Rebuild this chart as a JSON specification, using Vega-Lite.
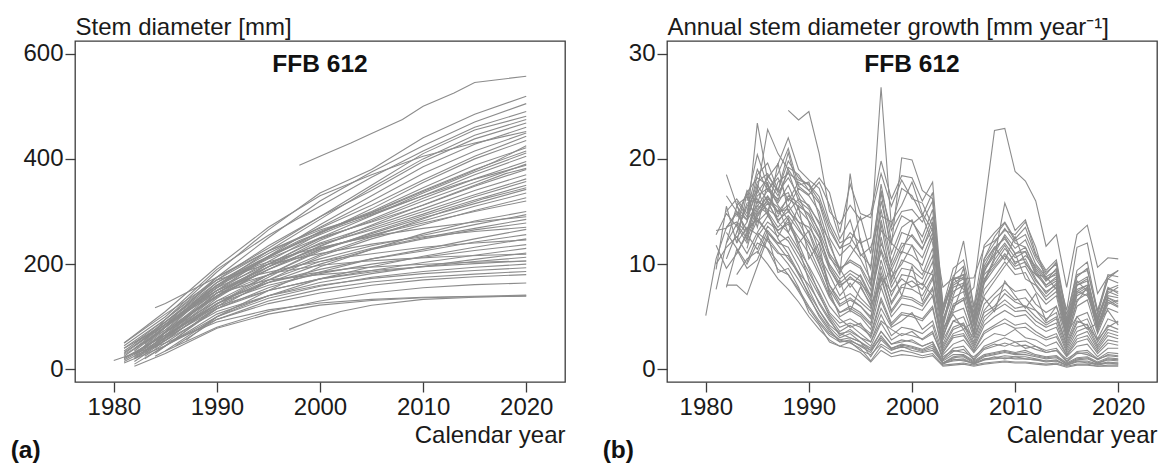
{
"$schema":"https://vega.github.io/schema/vega-lite/v6.json",
"padding":{"left":10,"top":14,"right":0,"bottom":0},
"background":"white",
"bounds":"flush",
"spacing":102,
"config":{"font":"Liberation Sans","view":{"stroke":"#3c3c3c","strokeWidth":1.3},
"axis":{"domain":false,"grid":false,"tickSize":10,"tickColor":"#3c3c3c","tickWidth":1.3,"labelFontSize":24,"labelColor":"#1a1a1a","titleFontSize":24,"titleFontWeight":"normal","titleColor":"#1a1a1a","labelFont":"Liberation Sans","titleFont":"Liberation Sans","labelFlush":false}},
"datasets":{
"L":[
{"t":1,"x":1983,"y":55},{"t":1,"x":1985,"y":95},{"t":1,"x":1990,"y":185},{"t":1,"x":1995,"y":265},{"t":1,"x":2000,"y":335},{"t":1,"x":2005,"y":380},{"t":1,"x":2010,"y":440},{"t":1,"x":2015,"y":485},{"t":1,"x":2020,"y":519},
{"t":2,"x":1982,"y":40},{"t":2,"x":1985,"y":85},{"t":2,"x":1990,"y":175},{"t":2,"x":1995,"y":250},{"t":2,"x":2000,"y":320},{"t":2,"x":2005,"y":375},{"t":2,"x":2010,"y":425},{"t":2,"x":2015,"y":470},{"t":2,"x":2020,"y":505},
{"t":3,"x":1981,"y":45},{"t":3,"x":1985,"y":100},{"t":3,"x":1990,"y":190},{"t":3,"x":1995,"y":255},{"t":3,"x":2000,"y":310},{"t":3,"x":2005,"y":365},{"t":3,"x":2010,"y":415},{"t":3,"x":2015,"y":460},{"t":3,"x":2020,"y":490},
{"t":4,"x":1984,"y":117},{"t":4,"x":1985,"y":125},{"t":4,"x":1990,"y":175},{"t":4,"x":1995,"y":230},{"t":4,"x":2000,"y":290},{"t":4,"x":2005,"y":350},{"t":4,"x":2010,"y":410},{"t":4,"x":2015,"y":455},{"t":4,"x":2020,"y":481},
{"t":5,"x":1982,"y":30},{"t":5,"x":1985,"y":75},{"t":5,"x":1990,"y":160},{"t":5,"x":1995,"y":225},{"t":5,"x":2000,"y":285},{"t":5,"x":2005,"y":345},{"t":5,"x":2010,"y":400},{"t":5,"x":2015,"y":445},{"t":5,"x":2020,"y":475},
{"t":6,"x":1981,"y":35},{"t":6,"x":1985,"y":90},{"t":6,"x":1990,"y":170},{"t":6,"x":1995,"y":235},{"t":6,"x":2000,"y":290},{"t":6,"x":2005,"y":340},{"t":6,"x":2010,"y":395},{"t":6,"x":2015,"y":438},{"t":6,"x":2020,"y":468},
{"t":7,"x":1983,"y":40},{"t":7,"x":1985,"y":70},{"t":7,"x":1990,"y":150},{"t":7,"x":1995,"y":215},{"t":7,"x":2000,"y":275},{"t":7,"x":2005,"y":330},{"t":7,"x":2010,"y":385},{"t":7,"x":2015,"y":428},{"t":7,"x":2020,"y":460},
{"t":8,"x":1981,"y":25},{"t":8,"x":1985,"y":80},{"t":8,"x":1990,"y":165},{"t":8,"x":1995,"y":220},{"t":8,"x":2000,"y":270},{"t":8,"x":2005,"y":320},{"t":8,"x":2010,"y":372},{"t":8,"x":2015,"y":415},{"t":8,"x":2020,"y":449},
{"t":9,"x":1982,"y":50},{"t":9,"x":1985,"y":95},{"t":9,"x":1990,"y":170},{"t":9,"x":1995,"y":225},{"t":9,"x":2000,"y":268},{"t":9,"x":2005,"y":312},{"t":9,"x":2010,"y":360},{"t":9,"x":2015,"y":405},{"t":9,"x":2020,"y":443},
{"t":10,"x":1984,"y":70},{"t":10,"x":1985,"y":85},{"t":10,"x":1990,"y":150},{"t":10,"x":1995,"y":205},{"t":10,"x":2000,"y":258},{"t":10,"x":2005,"y":305},{"t":10,"x":2010,"y":355},{"t":10,"x":2015,"y":400},{"t":10,"x":2020,"y":435},
{"t":11,"x":1981,"y":30},{"t":11,"x":1985,"y":85},{"t":11,"x":1990,"y":160},{"t":11,"x":1995,"y":212},{"t":11,"x":2000,"y":262},{"t":11,"x":2005,"y":300},{"t":11,"x":2010,"y":345},{"t":11,"x":2015,"y":388},{"t":11,"x":2020,"y":421},
{"t":12,"x":1983,"y":60},{"t":12,"x":1985,"y":90},{"t":12,"x":1990,"y":165},{"t":12,"x":1995,"y":215},{"t":12,"x":2000,"y":260},{"t":12,"x":2005,"y":298},{"t":12,"x":2010,"y":340},{"t":12,"x":2015,"y":380},{"t":12,"x":2020,"y":415},
{"t":13,"x":1982,"y":20},{"t":13,"x":1985,"y":60},{"t":13,"x":1990,"y":140},{"t":13,"x":1995,"y":200},{"t":13,"x":2000,"y":250},{"t":13,"x":2005,"y":292},{"t":13,"x":2010,"y":335},{"t":13,"x":2015,"y":375},{"t":13,"x":2020,"y":411},
{"t":14,"x":1981,"y":40},{"t":14,"x":1985,"y":95},{"t":14,"x":1990,"y":175},{"t":14,"x":1995,"y":225},{"t":14,"x":2000,"y":265},{"t":14,"x":2005,"y":295},{"t":14,"x":2010,"y":330},{"t":14,"x":2015,"y":370},{"t":14,"x":2020,"y":405},
{"t":15,"x":1985,"y":60},{"t":15,"x":1990,"y":135},{"t":15,"x":1995,"y":195},{"t":15,"x":2000,"y":245},{"t":15,"x":2005,"y":285},{"t":15,"x":2010,"y":325},{"t":15,"x":2015,"y":362},{"t":15,"x":2020,"y":395},
{"t":16,"x":1983,"y":35},{"t":16,"x":1985,"y":65},{"t":16,"x":1990,"y":145},{"t":16,"x":1995,"y":200},{"t":16,"x":2000,"y":248},{"t":16,"x":2005,"y":282},{"t":16,"x":2010,"y":320},{"t":16,"x":2015,"y":355},{"t":16,"x":2020,"y":390},
{"t":17,"x":1982,"y":45},{"t":17,"x":1985,"y":90},{"t":17,"x":1990,"y":160},{"t":17,"x":1995,"y":210},{"t":17,"x":2000,"y":250},{"t":17,"x":2005,"y":280},{"t":17,"x":2010,"y":312},{"t":17,"x":2015,"y":348},{"t":17,"x":2020,"y":380},
{"t":18,"x":1981,"y":20},{"t":18,"x":1985,"y":65},{"t":18,"x":1990,"y":145},{"t":18,"x":1995,"y":195},{"t":18,"x":2000,"y":240},{"t":18,"x":2005,"y":272},{"t":18,"x":2010,"y":305},{"t":18,"x":2015,"y":340},{"t":18,"x":2020,"y":370},
{"t":19,"x":1984,"y":50},{"t":19,"x":1985,"y":70},{"t":19,"x":1990,"y":140},{"t":19,"x":1995,"y":190},{"t":19,"x":2000,"y":235},{"t":19,"x":2005,"y":268},{"t":19,"x":2010,"y":300},{"t":19,"x":2015,"y":332},{"t":19,"x":2020,"y":362},
{"t":20,"x":1982,"y":35},{"t":20,"x":1985,"y":80},{"t":20,"x":1990,"y":155},{"t":20,"x":1995,"y":200},{"t":20,"x":2000,"y":238},{"t":20,"x":2005,"y":265},{"t":20,"x":2010,"y":295},{"t":20,"x":2015,"y":328},{"t":20,"x":2020,"y":357},
{"t":21,"x":1983,"y":30},{"t":21,"x":1985,"y":60},{"t":21,"x":1990,"y":130},{"t":21,"x":1995,"y":180},{"t":21,"x":2000,"y":225},{"t":21,"x":2005,"y":260},{"t":21,"x":2010,"y":292},{"t":21,"x":2015,"y":322},{"t":21,"x":2020,"y":350},
{"t":22,"x":1981,"y":15},{"t":22,"x":1985,"y":55},{"t":22,"x":1990,"y":125},{"t":22,"x":1995,"y":180},{"t":22,"x":2000,"y":228},{"t":22,"x":2005,"y":258},{"t":22,"x":2010,"y":288},{"t":22,"x":2015,"y":315},{"t":22,"x":2020,"y":342},
{"t":23,"x":1982,"y":25},{"t":23,"x":1985,"y":70},{"t":23,"x":1990,"y":145},{"t":23,"x":1995,"y":190},{"t":23,"x":2000,"y":228},{"t":23,"x":2005,"y":255},{"t":23,"x":2010,"y":282},{"t":23,"x":2015,"y":310},{"t":23,"x":2020,"y":335},
{"t":24,"x":1985,"y":45},{"t":24,"x":1990,"y":115},{"t":24,"x":1995,"y":170},{"t":24,"x":2000,"y":215},{"t":24,"x":2005,"y":248},{"t":24,"x":2010,"y":275},{"t":24,"x":2015,"y":302},{"t":24,"x":2020,"y":326},
{"t":25,"x":1983,"y":45},{"t":25,"x":1985,"y":80},{"t":25,"x":1990,"y":150},{"t":25,"x":1995,"y":195},{"t":25,"x":2000,"y":230},{"t":25,"x":2005,"y":255},{"t":25,"x":2010,"y":278},{"t":25,"x":2015,"y":300},{"t":25,"x":2020,"y":320},
{"t":26,"x":1981,"y":28},{"t":26,"x":1985,"y":75},{"t":26,"x":1990,"y":140},{"t":26,"x":1995,"y":180},{"t":26,"x":2000,"y":210},{"t":26,"x":2005,"y":235},{"t":26,"x":2010,"y":255},{"t":26,"x":2015,"y":275},{"t":26,"x":2020,"y":294},
{"t":27,"x":1982,"y":15},{"t":27,"x":1985,"y":55},{"t":27,"x":1990,"y":125},{"t":27,"x":1995,"y":170},{"t":27,"x":2000,"y":205},{"t":27,"x":2005,"y":230},{"t":27,"x":2010,"y":250},{"t":27,"x":2015,"y":268},{"t":27,"x":2020,"y":285},
{"t":28,"x":1984,"y":40},{"t":28,"x":1985,"y":58},{"t":28,"x":1990,"y":120},{"t":28,"x":1995,"y":165},{"t":28,"x":2000,"y":200},{"t":28,"x":2005,"y":228},{"t":28,"x":2010,"y":248},{"t":28,"x":2015,"y":265},{"t":28,"x":2020,"y":278},
{"t":29,"x":1981,"y":50},{"t":29,"x":1985,"y":105},{"t":29,"x":1990,"y":170},{"t":29,"x":1995,"y":200},{"t":29,"x":2000,"y":220},{"t":29,"x":2005,"y":238},{"t":29,"x":2010,"y":252},{"t":29,"x":2015,"y":262},{"t":29,"x":2020,"y":270},
{"t":30,"x":1983,"y":25},{"t":30,"x":1985,"y":50},{"t":30,"x":1990,"y":115},{"t":30,"x":1995,"y":155},{"t":30,"x":2000,"y":185},{"t":30,"x":2005,"y":210},{"t":30,"x":2010,"y":228},{"t":30,"x":2015,"y":248},{"t":30,"x":2020,"y":266},
{"t":31,"x":1982,"y":30},{"t":31,"x":1985,"y":70},{"t":31,"x":1990,"y":130},{"t":31,"x":1995,"y":165},{"t":31,"x":2000,"y":190},{"t":31,"x":2005,"y":210},{"t":31,"x":2010,"y":225},{"t":31,"x":2015,"y":242},{"t":31,"x":2020,"y":256},
{"t":32,"x":1985,"y":35},{"t":32,"x":1990,"y":100},{"t":32,"x":1995,"y":140},{"t":32,"x":2000,"y":172},{"t":32,"x":2005,"y":195},{"t":32,"x":2010,"y":215},{"t":32,"x":2015,"y":232},{"t":32,"x":2020,"y":248},
{"t":33,"x":1981,"y":22},{"t":33,"x":1985,"y":65},{"t":33,"x":1990,"y":125},{"t":33,"x":1995,"y":160},{"t":33,"x":2000,"y":182},{"t":33,"x":2005,"y":200},{"t":33,"x":2010,"y":213},{"t":33,"x":2015,"y":226},{"t":33,"x":2020,"y":237},
{"t":34,"x":1983,"y":35},{"t":34,"x":1985,"y":65},{"t":34,"x":1990,"y":120},{"t":34,"x":1995,"y":150},{"t":34,"x":2000,"y":172},{"t":34,"x":2005,"y":188},{"t":34,"x":2010,"y":203},{"t":34,"x":2015,"y":217},{"t":34,"x":2020,"y":230},
{"t":35,"x":1982,"y":10},{"t":35,"x":1985,"y":45},{"t":35,"x":1990,"y":105},{"t":35,"x":1995,"y":140},{"t":35,"x":2000,"y":165},{"t":35,"x":2005,"y":182},{"t":35,"x":2010,"y":196},{"t":35,"x":2015,"y":209},{"t":35,"x":2020,"y":221},
{"t":36,"x":1984,"y":45},{"t":36,"x":1985,"y":60},{"t":36,"x":1990,"y":115},{"t":36,"x":1995,"y":150},{"t":36,"x":2000,"y":172},{"t":36,"x":2005,"y":185},{"t":36,"x":2010,"y":195},{"t":36,"x":2015,"y":205},{"t":36,"x":2020,"y":213},
{"t":37,"x":1981,"y":40},{"t":37,"x":1985,"y":85},{"t":37,"x":1990,"y":145},{"t":37,"x":1995,"y":170},{"t":37,"x":2000,"y":180},{"t":37,"x":2005,"y":188},{"t":37,"x":2010,"y":195},{"t":37,"x":2015,"y":201},{"t":37,"x":2020,"y":206},
{"t":38,"x":1983,"y":20},{"t":38,"x":1985,"y":45},{"t":38,"x":1990,"y":100},{"t":38,"x":1995,"y":135},{"t":38,"x":2000,"y":158},{"t":38,"x":2005,"y":175},{"t":38,"x":2010,"y":186},{"t":38,"x":2015,"y":194},{"t":38,"x":2020,"y":200},
{"t":39,"x":1982,"y":20},{"t":39,"x":1985,"y":55},{"t":39,"x":1990,"y":110},{"t":39,"x":1995,"y":140},{"t":39,"x":2000,"y":160},{"t":39,"x":2005,"y":173},{"t":39,"x":2010,"y":182},{"t":39,"x":2015,"y":188},{"t":39,"x":2020,"y":193},
{"t":40,"x":1986,"y":45},{"t":40,"x":1990,"y":95},{"t":40,"x":1995,"y":130},{"t":40,"x":2000,"y":152},{"t":40,"x":2005,"y":166},{"t":40,"x":2010,"y":175},{"t":40,"x":2015,"y":181},{"t":40,"x":2020,"y":186},
{"t":41,"x":1981,"y":12},{"t":41,"x":1985,"y":45},{"t":41,"x":1990,"y":95},{"t":41,"x":1995,"y":125},{"t":41,"x":2000,"y":145},{"t":41,"x":2005,"y":160},{"t":41,"x":2010,"y":170},{"t":41,"x":2015,"y":176},{"t":41,"x":2020,"y":180},
{"t":42,"x":1984,"y":25},{"t":42,"x":1985,"y":35},{"t":42,"x":1990,"y":80},{"t":42,"x":1995,"y":110},{"t":42,"x":2000,"y":130},{"t":42,"x":2005,"y":145},{"t":42,"x":2010,"y":155},{"t":42,"x":2015,"y":161},{"t":42,"x":2020,"y":164},
{"t":43,"x":1980,"y":17},{"t":43,"x":1985,"y":50},{"t":43,"x":1990,"y":90},{"t":43,"x":1995,"y":113},{"t":43,"x":2000,"y":126},{"t":43,"x":2005,"y":133},{"t":43,"x":2010,"y":137},{"t":43,"x":2015,"y":139},{"t":43,"x":2020,"y":141},
{"t":44,"x":1982,"y":6},{"t":44,"x":1985,"y":30},{"t":44,"x":1990,"y":78},{"t":44,"x":1995,"y":105},{"t":44,"x":2000,"y":122},{"t":44,"x":2005,"y":131},{"t":44,"x":2010,"y":136},{"t":44,"x":2015,"y":138},{"t":44,"x":2020,"y":139},
{"t":45,"x":1997,"y":76},{"t":45,"x":2000,"y":98},{"t":45,"x":2002,"y":110},{"t":45,"x":2005,"y":122},{"t":45,"x":2010,"y":133},{"t":45,"x":2015,"y":137},{"t":45,"x":2020,"y":140},
{"t":46,"x":1998,"y":388},{"t":46,"x":2000,"y":405},{"t":46,"x":2003,"y":430},{"t":46,"x":2005,"y":448},{"t":46,"x":2008,"y":475},{"t":46,"x":2010,"y":500},{"t":46,"x":2013,"y":525},{"t":46,"x":2015,"y":545},{"t":46,"x":2017,"y":550},{"t":46,"x":2020,"y":557},
{"t":47,"x":1987,"y":55},{"t":47,"x":1990,"y":100},{"t":47,"x":1995,"y":150},{"t":47,"x":2000,"y":195},{"t":47,"x":2005,"y":228},{"t":47,"x":2010,"y":258},{"t":47,"x":2015,"y":282},{"t":47,"x":2020,"y":300},
{"t":48,"x":1981,"y":50},{"t":48,"x":1985,"y":110},{"t":48,"x":1990,"y":195},{"t":48,"x":1995,"y":270},{"t":48,"x":2000,"y":330},{"t":48,"x":2005,"y":370},{"t":48,"x":2010,"y":405},{"t":48,"x":2015,"y":430},{"t":48,"x":2020,"y":452},
{"t":49,"x":1982,"y":28},{"t":49,"x":1985,"y":70},{"t":49,"x":1988,"y":115},{"t":49,"x":1990,"y":140},{"t":49,"x":1993,"y":168},{"t":49,"x":1996,"y":185},{"t":49,"x":2000,"y":198},{"t":49,"x":2004,"y":205},{"t":49,"x":2008,"y":210},{"t":49,"x":2012,"y":214},{"t":49,"x":2016,"y":217},{"t":49,"x":2020,"y":219},
{"t":50,"x":1981,"y":18},{"t":50,"x":1985,"y":60},{"t":50,"x":1988,"y":100},{"t":50,"x":1991,"y":135},{"t":50,"x":1995,"y":165},{"t":50,"x":1999,"y":182},{"t":50,"x":2003,"y":192},{"t":50,"x":2008,"y":198},{"t":50,"x":2014,"y":203},{"t":50,"x":2020,"y":206},
{"t":51,"x":1983,"y":42},{"t":51,"x":1985,"y":72},{"t":51,"x":1988,"y":125},{"t":51,"x":1991,"y":170},{"t":51,"x":1995,"y":215},{"t":51,"x":1998,"y":245},{"t":51,"x":2002,"y":275},{"t":51,"x":2006,"y":305},{"t":51,"x":2010,"y":338},{"t":51,"x":2014,"y":370},{"t":51,"x":2017,"y":395},{"t":51,"x":2020,"y":425},
{"t":52,"x":1982,"y":38},{"t":52,"x":1985,"y":82},{"t":52,"x":1988,"y":130},{"t":52,"x":1991,"y":172},{"t":52,"x":1994,"y":205},{"t":52,"x":1998,"y":240},{"t":52,"x":2002,"y":272},{"t":52,"x":2006,"y":300},{"t":52,"x":2010,"y":330},{"t":52,"x":2014,"y":356},{"t":52,"x":2017,"y":372},{"t":52,"x":2020,"y":388},
{"t":53,"x":1984,"y":30},{"t":53,"x":1986,"y":58},{"t":53,"x":1989,"y":105},{"t":53,"x":1992,"y":145},{"t":53,"x":1996,"y":185},{"t":53,"x":2000,"y":218},{"t":53,"x":2004,"y":245},{"t":53,"x":2008,"y":272},{"t":53,"x":2012,"y":300},{"t":53,"x":2016,"y":325},{"t":53,"x":2020,"y":345},
{"t":54,"x":1981,"y":32},{"t":54,"x":1984,"y":72},{"t":54,"x":1987,"y":115},{"t":54,"x":1990,"y":150},{"t":54,"x":1994,"y":180},{"t":54,"x":1998,"y":198},{"t":54,"x":2002,"y":212},{"t":54,"x":2006,"y":222},{"t":54,"x":2010,"y":232},{"t":54,"x":2015,"y":240},{"t":54,"x":2020,"y":246},
{"t":55,"x":1982,"y":22},{"t":55,"x":1985,"y":62},{"t":55,"x":1988,"y":112},{"t":55,"x":1991,"y":150},{"t":55,"x":1995,"y":190},{"t":55,"x":1999,"y":225},{"t":55,"x":2003,"y":258},{"t":55,"x":2007,"y":290},{"t":55,"x":2011,"y":320},{"t":55,"x":2015,"y":350},{"t":55,"x":2018,"y":372},{"t":55,"x":2020,"y":382},
{"t":56,"x":1983,"y":48},{"t":56,"x":1985,"y":80},{"t":56,"x":1988,"y":128},{"t":56,"x":1991,"y":168},{"t":56,"x":1994,"y":198},{"t":56,"x":1998,"y":222},{"t":56,"x":2002,"y":240},{"t":56,"x":2006,"y":256},{"t":56,"x":2010,"y":268},{"t":56,"x":2015,"y":280},{"t":56,"x":2020,"y":290}
],
"G":[
{"t":1,"x":1980,"y":5.1},{"t":1,"x":1981,"y":10.5},{"t":1,"x":1982,"y":13.5},{"t":1,"x":1983,"y":14.8},{"t":1,"x":1984,"y":13.2},{"t":1,"x":1985,"y":16.5},{"t":1,"x":1986,"y":17.2},{"t":1,"x":1987,"y":15.8},{"t":1,"x":1988,"y":17.5},{"t":1,"x":1989,"y":15.2},{"t":1,"x":1990,"y":14.1},{"t":1,"x":1991,"y":12.5},{"t":1,"x":1992,"y":9.8},{"t":1,"x":1993,"y":8.2},{"t":1,"x":1994,"y":9.1},{"t":1,"x":1995,"y":8.4},{"t":1,"x":1996,"y":6.5},{"t":1,"x":1997,"y":13.8},{"t":1,"x":1998,"y":8.6},{"t":1,"x":1999,"y":11.2},{"t":1,"x":2000,"y":10.8},{"t":1,"x":2001,"y":9.9},{"t":1,"x":2002,"y":12.6},{"t":1,"x":2003,"y":3.4},{"t":1,"x":2004,"y":6.8},{"t":1,"x":2005,"y":7.4},{"t":1,"x":2006,"y":3.6},{"t":1,"x":2007,"y":8.2},{"t":1,"x":2008,"y":9.6},{"t":1,"x":2009,"y":10.8},{"t":1,"x":2010,"y":9.5},{"t":1,"x":2011,"y":9.8},{"t":1,"x":2012,"y":8.1},{"t":1,"x":2013,"y":6.9},{"t":1,"x":2014,"y":7.8},{"t":1,"x":2015,"y":3.1},{"t":1,"x":2016,"y":6.6},{"t":1,"x":2017,"y":7.2},{"t":1,"x":2018,"y":3.8},{"t":1,"x":2019,"y":6.4},{"t":1,"x":2020,"y":5.9},
{"t":2,"x":1982,"y":12.0},{"t":2,"x":1983,"y":15.5},{"t":2,"x":1984,"y":14.2},{"t":2,"x":1985,"y":18.5},{"t":2,"x":1986,"y":19.6},{"t":2,"x":1987,"y":17.0},{"t":2,"x":1988,"y":19.8},{"t":2,"x":1989,"y":18.2},{"t":2,"x":1990,"y":17.5},{"t":2,"x":1991,"y":16.0},{"t":2,"x":1992,"y":13.2},{"t":2,"x":1993,"y":11.5},{"t":2,"x":1994,"y":13.0},{"t":2,"x":1995,"y":12.0},{"t":2,"x":1996,"y":12.5},{"t":2,"x":1997,"y":26.8},{"t":2,"x":1998,"y":13.5},{"t":2,"x":1999,"y":17.2},{"t":2,"x":2000,"y":16.5},{"t":2,"x":2001,"y":14.6},{"t":2,"x":2002,"y":16.8},{"t":2,"x":2003,"y":5.2},{"t":2,"x":2004,"y":8.9},{"t":2,"x":2005,"y":9.8},{"t":2,"x":2006,"y":5.4},{"t":2,"x":2007,"y":10.5},{"t":2,"x":2008,"y":12.6},{"t":2,"x":2009,"y":13.9},{"t":2,"x":2010,"y":12.2},{"t":2,"x":2011,"y":12.8},{"t":2,"x":2012,"y":10.5},{"t":2,"x":2013,"y":9.0},{"t":2,"x":2014,"y":10.2},{"t":2,"x":2015,"y":4.6},{"t":2,"x":2016,"y":8.8},{"t":2,"x":2017,"y":9.6},{"t":2,"x":2018,"y":5.2},{"t":2,"x":2019,"y":8.6},{"t":2,"x":2020,"y":8.2},
{"t":3,"x":1988,"y":24.6},{"t":3,"x":1989,"y":23.7},{"t":3,"x":1990,"y":24.5},{"t":3,"x":1991,"y":20.5},{"t":3,"x":1992,"y":15.0},{"t":3,"x":1993,"y":13.8},{"t":3,"x":1994,"y":15.6},{"t":3,"x":1995,"y":14.2},{"t":3,"x":1996,"y":14.8},{"t":3,"x":1997,"y":19.8},{"t":3,"x":1998,"y":16.2},{"t":3,"x":1999,"y":18.4},{"t":3,"x":2000,"y":18.2},{"t":3,"x":2001,"y":16.0},{"t":3,"x":2002,"y":17.8},{"t":3,"x":2003,"y":6.0},{"t":3,"x":2004,"y":8.5},{"t":3,"x":2005,"y":9.0},{"t":3,"x":2006,"y":4.8},{"t":3,"x":2007,"y":9.6},{"t":3,"x":2008,"y":11.0},{"t":3,"x":2009,"y":12.8},{"t":3,"x":2010,"y":11.5},{"t":3,"x":2011,"y":12.3},{"t":3,"x":2012,"y":10.0},{"t":3,"x":2013,"y":8.8},{"t":3,"x":2014,"y":9.4},{"t":3,"x":2015,"y":4.2},{"t":3,"x":2016,"y":8.0},{"t":3,"x":2017,"y":8.4},{"t":3,"x":2018,"y":4.6},{"t":3,"x":2019,"y":7.6},{"t":3,"x":2020,"y":7.4},
{"t":4,"x":1983,"y":13.0},{"t":4,"x":1984,"y":15.8},{"t":4,"x":1985,"y":16.2},{"t":4,"x":1986,"y":15.0},{"t":4,"x":1987,"y":13.5},{"t":4,"x":1988,"y":14.6},{"t":4,"x":1989,"y":13.2},{"t":4,"x":1990,"y":12.0},{"t":4,"x":1991,"y":10.6},{"t":4,"x":1992,"y":8.0},{"t":4,"x":1993,"y":6.6},{"t":4,"x":1994,"y":7.2},{"t":4,"x":1995,"y":6.4},{"t":4,"x":1996,"y":5.5},{"t":4,"x":1997,"y":10.4},{"t":4,"x":1998,"y":7.0},{"t":4,"x":1999,"y":9.0},{"t":4,"x":2000,"y":8.8},{"t":4,"x":2001,"y":8.0},{"t":4,"x":2002,"y":10.2},{"t":4,"x":2003,"y":3.6},{"t":4,"x":2004,"y":6.0},{"t":4,"x":2005,"y":6.6},{"t":4,"x":2006,"y":7.8},{"t":4,"x":2007,"y":15.2},{"t":4,"x":2008,"y":22.7},{"t":4,"x":2009,"y":22.9},{"t":4,"x":2010,"y":18.8},{"t":4,"x":2011,"y":17.9},{"t":4,"x":2012,"y":16.0},{"t":4,"x":2013,"y":11.7},{"t":4,"x":2014,"y":12.8},{"t":4,"x":2015,"y":7.8},{"t":4,"x":2016,"y":12.8},{"t":4,"x":2017,"y":13.7},{"t":4,"x":2018,"y":9.7},{"t":4,"x":2019,"y":10.6},{"t":4,"x":2020,"y":10.5},
{"t":5,"x":1983,"y":12.5},{"t":5,"x":1984,"y":14.0},{"t":5,"x":1985,"y":23.4},{"t":5,"x":1986,"y":18.0},{"t":5,"x":1987,"y":16.5},{"t":5,"x":1988,"y":18.8},{"t":5,"x":1989,"y":16.0},{"t":5,"x":1990,"y":15.2},{"t":5,"x":1991,"y":13.0},{"t":5,"x":1992,"y":9.5},{"t":5,"x":1993,"y":7.8},{"t":5,"x":1994,"y":8.8},{"t":5,"x":1995,"y":8.0},{"t":5,"x":1996,"y":6.0},{"t":5,"x":1997,"y":12.6},{"t":5,"x":1998,"y":8.2},{"t":5,"x":1999,"y":10.4},{"t":5,"x":2000,"y":10.0},{"t":5,"x":2001,"y":9.0},{"t":5,"x":2002,"y":11.5},{"t":5,"x":2003,"y":3.0},{"t":5,"x":2004,"y":6.2},{"t":5,"x":2005,"y":6.8},{"t":5,"x":2006,"y":3.2},{"t":5,"x":2007,"y":7.6},{"t":5,"x":2008,"y":8.8},{"t":5,"x":2009,"y":10.2},{"t":5,"x":2010,"y":9.0},{"t":5,"x":2011,"y":9.2},{"t":5,"x":2012,"y":7.4},{"t":5,"x":2013,"y":6.2},{"t":5,"x":2014,"y":7.0},{"t":5,"x":2015,"y":2.8},{"t":5,"x":2016,"y":6.0},{"t":5,"x":2017,"y":6.6},{"t":5,"x":2018,"y":3.4},{"t":5,"x":2019,"y":5.8},{"t":5,"x":2020,"y":5.4},
{"t":6,"x":1982,"y":10.5},{"t":6,"x":1983,"y":13.0},{"t":6,"x":1984,"y":15.5},{"t":6,"x":1985,"y":17.0},{"t":6,"x":1986,"y":22.8},{"t":6,"x":1987,"y":20.5},{"t":6,"x":1988,"y":19.0},{"t":6,"x":1989,"y":17.5},{"t":6,"x":1990,"y":17.8},{"t":6,"x":1991,"y":14.5},{"t":6,"x":1992,"y":10.8},{"t":6,"x":1993,"y":9.0},{"t":6,"x":1994,"y":18.6},{"t":6,"x":1995,"y":12.0},{"t":6,"x":1996,"y":9.5},{"t":6,"x":1997,"y":16.8},{"t":6,"x":1998,"y":11.0},{"t":6,"x":1999,"y":13.5},{"t":6,"x":2000,"y":14.2},{"t":6,"x":2001,"y":12.0},{"t":6,"x":2002,"y":14.5},{"t":6,"x":2003,"y":4.4},{"t":6,"x":2004,"y":8.0},{"t":6,"x":2005,"y":8.6},{"t":6,"x":2006,"y":4.5},{"t":6,"x":2007,"y":9.4},{"t":6,"x":2008,"y":10.8},{"t":6,"x":2009,"y":12.0},{"t":6,"x":2010,"y":10.6},{"t":6,"x":2011,"y":11.2},{"t":6,"x":2012,"y":9.0},{"t":6,"x":2013,"y":8.0},{"t":6,"x":2014,"y":8.6},{"t":6,"x":2015,"y":3.8},{"t":6,"x":2016,"y":7.6},{"t":6,"x":2017,"y":8.0},{"t":6,"x":2018,"y":4.2},{"t":6,"x":2019,"y":7.0},{"t":6,"x":2020,"y":6.8},
{"t":7,"x":1984,"y":11.5},{"t":7,"x":1985,"y":15.0},{"t":7,"x":1986,"y":16.5},{"t":7,"x":1987,"y":15.0},{"t":7,"x":1988,"y":16.2},{"t":7,"x":1989,"y":15.5},{"t":7,"x":1990,"y":14.8},{"t":7,"x":1991,"y":13.2},{"t":7,"x":1992,"y":10.6},{"t":7,"x":1993,"y":9.5},{"t":7,"x":1994,"y":10.4},{"t":7,"x":1995,"y":9.8},{"t":7,"x":1996,"y":8.0},{"t":7,"x":1997,"y":16.0},{"t":7,"x":1998,"y":11.8},{"t":7,"x":1999,"y":20.1},{"t":7,"x":2000,"y":19.9},{"t":7,"x":2001,"y":17.0},{"t":7,"x":2002,"y":16.2},{"t":7,"x":2003,"y":5.6},{"t":7,"x":2004,"y":8.2},{"t":7,"x":2005,"y":8.8},{"t":7,"x":2006,"y":5.0},{"t":7,"x":2007,"y":9.0},{"t":7,"x":2008,"y":10.0},{"t":7,"x":2009,"y":11.5},{"t":7,"x":2010,"y":10.2},{"t":7,"x":2011,"y":10.5},{"t":7,"x":2012,"y":8.6},{"t":7,"x":2013,"y":7.2},{"t":7,"x":2014,"y":8.2},{"t":7,"x":2015,"y":3.5},{"t":7,"x":2016,"y":7.2},{"t":7,"x":2017,"y":7.8},{"t":7,"x":2018,"y":4.0},{"t":7,"x":2019,"y":6.8},{"t":7,"x":2020,"y":6.2},
{"t":8,"x":1981,"y":13.2},{"t":8,"x":1982,"y":13.4},{"t":8,"x":1983,"y":15.0},{"t":8,"x":1984,"y":14.2},{"t":8,"x":1985,"y":15.6},{"t":8,"x":1986,"y":14.8},{"t":8,"x":1987,"y":13.0},{"t":8,"x":1988,"y":12.2},{"t":8,"x":1989,"y":10.5},{"t":8,"x":1990,"y":8.8},{"t":8,"x":1991,"y":7.0},{"t":8,"x":1992,"y":5.2},{"t":8,"x":1993,"y":4.0},{"t":8,"x":1994,"y":4.4},{"t":8,"x":1995,"y":4.0},{"t":8,"x":1996,"y":3.2},{"t":8,"x":1997,"y":6.5},{"t":8,"x":1998,"y":4.2},{"t":8,"x":1999,"y":5.2},{"t":8,"x":2000,"y":5.0},{"t":8,"x":2001,"y":4.6},{"t":8,"x":2002,"y":5.8},{"t":8,"x":2003,"y":1.6},{"t":8,"x":2004,"y":3.2},{"t":8,"x":2005,"y":3.4},{"t":8,"x":2006,"y":1.8},{"t":8,"x":2007,"y":3.6},{"t":8,"x":2008,"y":4.2},{"t":8,"x":2009,"y":4.8},{"t":8,"x":2010,"y":4.2},{"t":8,"x":2011,"y":4.4},{"t":8,"x":2012,"y":3.6},{"t":8,"x":2013,"y":3.0},{"t":8,"x":2014,"y":3.4},{"t":8,"x":2015,"y":1.4},{"t":8,"x":2016,"y":2.9},{"t":8,"x":2017,"y":3.2},{"t":8,"x":2018,"y":1.7},{"t":8,"x":2019,"y":2.8},{"t":8,"x":2020,"y":2.6},
{"t":9,"x":1982,"y":8.0},{"t":9,"x":1983,"y":8.0},{"t":9,"x":1984,"y":7.1},{"t":9,"x":1985,"y":9.8},{"t":9,"x":1986,"y":12.5},{"t":9,"x":1987,"y":11.2},{"t":9,"x":1988,"y":10.0},{"t":9,"x":1989,"y":8.5},{"t":9,"x":1990,"y":6.8},{"t":9,"x":1991,"y":5.2},{"t":9,"x":1992,"y":3.8},{"t":9,"x":1993,"y":2.6},{"t":9,"x":1994,"y":2.8},{"t":9,"x":1995,"y":2.2},{"t":9,"x":1996,"y":1.6},{"t":9,"x":1997,"y":3.2},{"t":9,"x":1998,"y":2.0},{"t":9,"x":1999,"y":2.4},{"t":9,"x":2000,"y":2.2},{"t":9,"x":2001,"y":1.9},{"t":9,"x":2002,"y":2.4},{"t":9,"x":2003,"y":0.6},{"t":9,"x":2004,"y":1.1},{"t":9,"x":2005,"y":1.2},{"t":9,"x":2006,"y":0.6},{"t":9,"x":2007,"y":1.2},{"t":9,"x":2008,"y":1.4},{"t":9,"x":2009,"y":1.6},{"t":9,"x":2010,"y":1.4},{"t":9,"x":2011,"y":1.4},{"t":9,"x":2012,"y":1.2},{"t":9,"x":2013,"y":1.0},{"t":9,"x":2014,"y":1.1},{"t":9,"x":2015,"y":0.5},{"t":9,"x":2016,"y":0.9},{"t":9,"x":2017,"y":1.0},{"t":9,"x":2018,"y":0.6},{"t":9,"x":2019,"y":0.9},{"t":9,"x":2020,"y":0.8},
{"t":10,"x":1981,"y":12.8},{"t":10,"x":1982,"y":14.8},{"t":10,"x":1983,"y":13.6},{"t":10,"x":1984,"y":12.0},{"t":10,"x":1985,"y":14.2},{"t":10,"x":1986,"y":13.0},{"t":10,"x":1987,"y":11.8},{"t":10,"x":1988,"y":10.5},{"t":10,"x":1989,"y":9.2},{"t":10,"x":1990,"y":7.0},{"t":10,"x":1991,"y":5.0},{"t":10,"x":1992,"y":3.6},{"t":10,"x":1993,"y":2.8},{"t":10,"x":1994,"y":2.5},{"t":10,"x":1995,"y":2.0},{"t":10,"x":1996,"y":0.8},{"t":10,"x":1997,"y":2.2},{"t":10,"x":1998,"y":1.5},{"t":10,"x":1999,"y":1.8},{"t":10,"x":2000,"y":1.6},{"t":10,"x":2001,"y":1.3},{"t":10,"x":2002,"y":1.5},{"t":10,"x":2003,"y":0.4},{"t":10,"x":2004,"y":0.5},{"t":10,"x":2005,"y":0.6},{"t":10,"x":2006,"y":0.4},{"t":10,"x":2007,"y":0.6},{"t":10,"x":2008,"y":0.7},{"t":10,"x":2009,"y":0.8},{"t":10,"x":2010,"y":0.7},{"t":10,"x":2011,"y":0.7},{"t":10,"x":2012,"y":0.6},{"t":10,"x":2013,"y":0.5},{"t":10,"x":2014,"y":0.6},{"t":10,"x":2015,"y":0.3},{"t":10,"x":2016,"y":0.5},{"t":10,"x":2017,"y":0.5},{"t":10,"x":2018,"y":0.3},{"t":10,"x":2019,"y":0.4},{"t":10,"x":2020,"y":0.4},
{"t":11,"x":1982,"y":15.0},{"t":11,"x":1983,"y":16.2},{"t":11,"x":1984,"y":14.8},{"t":11,"x":1985,"y":17.8},{"t":11,"x":1986,"y":18.6},{"t":11,"x":1987,"y":16.8},{"t":11,"x":1988,"y":18.2},{"t":11,"x":1989,"y":16.5},{"t":11,"x":1990,"y":14.0},{"t":11,"x":1991,"y":11.2},{"t":11,"x":1992,"y":8.0},{"t":11,"x":1993,"y":6.2},{"t":11,"x":1994,"y":6.8},{"t":11,"x":1995,"y":6.0},{"t":11,"x":1996,"y":4.8},{"t":11,"x":1997,"y":9.8},{"t":11,"x":1998,"y":6.2},{"t":11,"x":1999,"y":7.8},{"t":11,"x":2000,"y":7.6},{"t":11,"x":2001,"y":7.0},{"t":11,"x":2002,"y":8.8},{"t":11,"x":2003,"y":2.4},{"t":11,"x":2004,"y":4.6},{"t":11,"x":2005,"y":5.0},{"t":11,"x":2006,"y":2.6},{"t":11,"x":2007,"y":5.6},{"t":11,"x":2008,"y":6.8},{"t":11,"x":2009,"y":7.6},{"t":11,"x":2010,"y":6.6},{"t":11,"x":2011,"y":6.8},{"t":11,"x":2012,"y":5.6},{"t":11,"x":2013,"y":4.8},{"t":11,"x":2014,"y":5.4},{"t":11,"x":2015,"y":2.2},{"t":11,"x":2016,"y":4.4},{"t":11,"x":2017,"y":4.8},{"t":11,"x":2018,"y":2.6},{"t":11,"x":2019,"y":4.2},{"t":11,"x":2020,"y":3.8},
{"t":12,"x":1983,"y":14.5},{"t":12,"x":1984,"y":16.8},{"t":12,"x":1985,"y":18.2},{"t":12,"x":1986,"y":17.5},{"t":12,"x":1987,"y":16.0},{"t":12,"x":1988,"y":19.2},{"t":12,"x":1989,"y":18.5},{"t":12,"x":1990,"y":17.0},{"t":12,"x":1991,"y":15.8},{"t":12,"x":1992,"y":12.5},{"t":12,"x":1993,"y":10.8},{"t":12,"x":1994,"y":11.8},{"t":12,"x":1995,"y":10.5},{"t":12,"x":1996,"y":8.5},{"t":12,"x":1997,"y":15.2},{"t":12,"x":1998,"y":10.2},{"t":12,"x":1999,"y":13.0},{"t":12,"x":2000,"y":12.6},{"t":12,"x":2001,"y":11.4},{"t":12,"x":2002,"y":14.0},{"t":12,"x":2003,"y":4.8},{"t":12,"x":2004,"y":7.4},{"t":12,"x":2005,"y":8.0},{"t":12,"x":2006,"y":4.2},{"t":12,"x":2007,"y":8.6},{"t":12,"x":2008,"y":9.8},{"t":12,"x":2009,"y":11.0},{"t":12,"x":2010,"y":9.8},{"t":12,"x":2011,"y":10.2},{"t":12,"x":2012,"y":8.4},{"t":12,"x":2013,"y":7.4},{"t":12,"x":2014,"y":8.0},{"t":12,"x":2015,"y":3.4},{"t":12,"x":2016,"y":7.0},{"t":12,"x":2017,"y":7.6},{"t":12,"x":2018,"y":3.9},{"t":12,"x":2019,"y":6.6},{"t":12,"x":2020,"y":6.0},
{"t":13,"x":1984,"y":10.2},{"t":13,"x":1985,"y":12.6},{"t":13,"x":1986,"y":14.0},{"t":13,"x":1987,"y":13.2},{"t":13,"x":1988,"y":13.8},{"t":13,"x":1989,"y":12.0},{"t":13,"x":1990,"y":9.6},{"t":13,"x":1991,"y":7.2},{"t":13,"x":1992,"y":5.0},{"t":13,"x":1993,"y":3.6},{"t":13,"x":1994,"y":4.2},{"t":13,"x":1995,"y":3.4},{"t":13,"x":1996,"y":2.6},{"t":13,"x":1997,"y":5.2},{"t":13,"x":1998,"y":3.2},{"t":13,"x":1999,"y":4.0},{"t":13,"x":2000,"y":3.8},{"t":13,"x":2001,"y":3.4},{"t":13,"x":2002,"y":4.2},{"t":13,"x":2003,"y":1.0},{"t":13,"x":2004,"y":2.0},{"t":13,"x":2005,"y":2.2},{"t":13,"x":2006,"y":1.0},{"t":13,"x":2007,"y":2.2},{"t":13,"x":2008,"y":2.6},{"t":13,"x":2009,"y":3.0},{"t":13,"x":2010,"y":2.6},{"t":13,"x":2011,"y":2.7},{"t":13,"x":2012,"y":2.2},{"t":13,"x":2013,"y":1.8},{"t":13,"x":2014,"y":2.0},{"t":13,"x":2015,"y":0.8},{"t":13,"x":2016,"y":1.7},{"t":13,"x":2017,"y":1.8},{"t":13,"x":2018,"y":1.0},{"t":13,"x":2019,"y":1.6},{"t":13,"x":2020,"y":1.5},
{"t":14,"x":1981,"y":7.6},{"t":14,"x":1982,"y":12.0},{"t":14,"x":1983,"y":13.8},{"t":14,"x":1984,"y":12.4},{"t":14,"x":1985,"y":14.8},{"t":14,"x":1986,"y":16.0},{"t":14,"x":1987,"y":15.0},{"t":14,"x":1988,"y":15.2},{"t":14,"x":1989,"y":13.5},{"t":14,"x":1990,"y":11.6},{"t":14,"x":1991,"y":9.4},{"t":14,"x":1992,"y":7.0},{"t":14,"x":1993,"y":5.4},{"t":14,"x":1994,"y":5.8},{"t":14,"x":1995,"y":5.2},{"t":14,"x":1996,"y":4.2},{"t":14,"x":1997,"y":8.6},{"t":14,"x":1998,"y":5.4},{"t":14,"x":1999,"y":6.8},{"t":14,"x":2000,"y":6.6},{"t":14,"x":2001,"y":6.0},{"t":14,"x":2002,"y":7.6},{"t":14,"x":2003,"y":2.0},{"t":14,"x":2004,"y":3.8},{"t":14,"x":2005,"y":4.2},{"t":14,"x":2006,"y":2.2},{"t":14,"x":2007,"y":4.6},{"t":14,"x":2008,"y":5.6},{"t":14,"x":2009,"y":6.2},{"t":14,"x":2010,"y":5.5},{"t":14,"x":2011,"y":5.6},{"t":14,"x":2012,"y":4.6},{"t":14,"x":2013,"y":4.0},{"t":14,"x":2014,"y":4.4},{"t":14,"x":2015,"y":1.8},{"t":14,"x":2016,"y":3.6},{"t":14,"x":2017,"y":4.0},{"t":14,"x":2018,"y":2.1},{"t":14,"x":2019,"y":3.5},{"t":14,"x":2020,"y":3.2},
{"t":15,"x":1985,"y":11.0},{"t":15,"x":1986,"y":13.2},{"t":15,"x":1987,"y":12.0},{"t":15,"x":1988,"y":11.6},{"t":15,"x":1989,"y":9.8},{"t":15,"x":1990,"y":7.6},{"t":15,"x":1991,"y":5.6},{"t":15,"x":1992,"y":4.0},{"t":15,"x":1993,"y":3.0},{"t":15,"x":1994,"y":3.4},{"t":15,"x":1995,"y":2.6},{"t":15,"x":1996,"y":1.8},{"t":15,"x":1997,"y":3.6},{"t":15,"x":1998,"y":2.4},{"t":15,"x":1999,"y":2.8},{"t":15,"x":2000,"y":2.6},{"t":15,"x":2001,"y":2.2},{"t":15,"x":2002,"y":2.6},{"t":15,"x":2003,"y":0.6},{"t":15,"x":2004,"y":1.2},{"t":15,"x":2005,"y":1.3},{"t":15,"x":2006,"y":0.7},{"t":15,"x":2007,"y":1.3},{"t":15,"x":2008,"y":1.5},{"t":15,"x":2009,"y":1.7},{"t":15,"x":2010,"y":1.5},{"t":15,"x":2011,"y":1.6},{"t":15,"x":2012,"y":1.3},{"t":15,"x":2013,"y":1.1},{"t":15,"x":2014,"y":1.2},{"t":15,"x":2015,"y":0.5},{"t":15,"x":2016,"y":1.0},{"t":15,"x":2017,"y":1.1},{"t":15,"x":2018,"y":0.6},{"t":15,"x":2019,"y":1.0},{"t":15,"x":2020,"y":0.9},
{"t":16,"x":1983,"y":11.0},{"t":16,"x":1984,"y":13.0},{"t":16,"x":1985,"y":14.5},{"t":16,"x":1986,"y":15.8},{"t":16,"x":1987,"y":14.2},{"t":16,"x":1988,"y":15.0},{"t":16,"x":1989,"y":14.0},{"t":16,"x":1990,"y":13.5},{"t":16,"x":1991,"y":12.0},{"t":16,"x":1992,"y":9.5},{"t":16,"x":1993,"y":8.0},{"t":16,"x":1994,"y":8.6},{"t":16,"x":1995,"y":8.2},{"t":16,"x":1996,"y":7.0},{"t":16,"x":1997,"y":12.0},{"t":16,"x":1998,"y":9.4},{"t":16,"x":1999,"y":11.6},{"t":16,"x":2000,"y":12.8},{"t":16,"x":2001,"y":11.5},{"t":16,"x":2002,"y":13.4},{"t":16,"x":2003,"y":4.2},{"t":16,"x":2004,"y":8.5},{"t":16,"x":2005,"y":12.2},{"t":16,"x":2006,"y":5.8},{"t":16,"x":2007,"y":10.5},{"t":16,"x":2008,"y":12.0},{"t":16,"x":2009,"y":13.4},{"t":16,"x":2010,"y":12.0},{"t":16,"x":2011,"y":11.6},{"t":16,"x":2012,"y":9.6},{"t":16,"x":2013,"y":8.4},{"t":16,"x":2014,"y":9.2},{"t":16,"x":2015,"y":4.0},{"t":16,"x":2016,"y":8.2},{"t":16,"x":2017,"y":8.8},{"t":16,"x":2018,"y":4.6},{"t":16,"x":2019,"y":7.8},{"t":16,"x":2020,"y":7.2},
{"t":17,"x":1982,"y":16.5},{"t":17,"x":1983,"y":15.0},{"t":17,"x":1984,"y":13.2},{"t":17,"x":1985,"y":15.5},{"t":17,"x":1986,"y":17.0},{"t":17,"x":1987,"y":16.2},{"t":17,"x":1988,"y":16.8},{"t":17,"x":1989,"y":14.6},{"t":17,"x":1990,"y":13.0},{"t":17,"x":1991,"y":10.2},{"t":17,"x":1992,"y":7.4},{"t":17,"x":1993,"y":5.0},{"t":17,"x":1994,"y":5.6},{"t":17,"x":1995,"y":5.0},{"t":17,"x":1996,"y":3.8},{"t":17,"x":1997,"y":7.8},{"t":17,"x":1998,"y":5.0},{"t":17,"x":1999,"y":6.2},{"t":17,"x":2000,"y":6.0},{"t":17,"x":2001,"y":5.6},{"t":17,"x":2002,"y":7.0},{"t":17,"x":2003,"y":1.8},{"t":17,"x":2004,"y":3.4},{"t":17,"x":2005,"y":3.8},{"t":17,"x":2006,"y":2.0},{"t":17,"x":2007,"y":4.2},{"t":17,"x":2008,"y":5.0},{"t":17,"x":2009,"y":5.6},{"t":17,"x":2010,"y":5.0},{"t":17,"x":2011,"y":5.2},{"t":17,"x":2012,"y":4.2},{"t":17,"x":2013,"y":3.6},{"t":17,"x":2014,"y":4.0},{"t":17,"x":2015,"y":1.6},{"t":17,"x":2016,"y":3.2},{"t":17,"x":2017,"y":3.6},{"t":17,"x":2018,"y":1.9},{"t":17,"x":2019,"y":3.2},{"t":17,"x":2020,"y":2.9},
{"t":18,"x":1983,"y":12.0},{"t":18,"x":1984,"y":13.5},{"t":18,"x":1985,"y":12.8},{"t":18,"x":1986,"y":11.4},{"t":18,"x":1987,"y":9.5},{"t":18,"x":1988,"y":9.0},{"t":18,"x":1989,"y":7.4},{"t":18,"x":1990,"y":5.8},{"t":18,"x":1991,"y":4.4},{"t":18,"x":1992,"y":3.2},{"t":18,"x":1993,"y":2.6},{"t":18,"x":1994,"y":2.7},{"t":18,"x":1995,"y":2.3},{"t":18,"x":1996,"y":1.8},{"t":18,"x":1997,"y":3.0},{"t":18,"x":1998,"y":2.0},{"t":18,"x":1999,"y":2.3},{"t":18,"x":2000,"y":2.1},{"t":18,"x":2001,"y":1.8},{"t":18,"x":2002,"y":2.2},{"t":18,"x":2003,"y":0.5},{"t":18,"x":2004,"y":0.9},{"t":18,"x":2005,"y":1.0},{"t":18,"x":2006,"y":0.5},{"t":18,"x":2007,"y":1.0},{"t":18,"x":2008,"y":1.1},{"t":18,"x":2009,"y":1.3},{"t":18,"x":2010,"y":1.2},{"t":18,"x":2011,"y":1.2},{"t":18,"x":2012,"y":1.0},{"t":18,"x":2013,"y":0.8},{"t":18,"x":2014,"y":0.9},{"t":18,"x":2015,"y":0.4},{"t":18,"x":2016,"y":0.8},{"t":18,"x":2017,"y":0.8},{"t":18,"x":2018,"y":0.5},{"t":18,"x":2019,"y":0.7},{"t":18,"x":2020,"y":0.6},
{"t":19,"x":1984,"y":14.0},{"t":19,"x":1985,"y":17.5},{"t":19,"x":1986,"y":16.0},{"t":19,"x":1987,"y":14.0},{"t":19,"x":1988,"y":15.5},{"t":19,"x":1989,"y":17.2},{"t":19,"x":1990,"y":16.5},{"t":19,"x":1991,"y":15.0},{"t":19,"x":1992,"y":11.8},{"t":19,"x":1993,"y":9.6},{"t":19,"x":1994,"y":10.2},{"t":19,"x":1995,"y":9.6},{"t":19,"x":1996,"y":7.5},{"t":19,"x":1997,"y":14.2},{"t":19,"x":1998,"y":9.8},{"t":19,"x":1999,"y":12.0},{"t":19,"x":2000,"y":11.8},{"t":19,"x":2001,"y":10.6},{"t":19,"x":2002,"y":13.0},{"t":19,"x":2003,"y":4.0},{"t":19,"x":2004,"y":7.8},{"t":19,"x":2005,"y":8.2},{"t":19,"x":2006,"y":4.6},{"t":19,"x":2007,"y":9.2},{"t":19,"x":2008,"y":11.4},{"t":19,"x":2009,"y":12.6},{"t":19,"x":2010,"y":11.0},{"t":19,"x":2011,"y":11.6},{"t":19,"x":2012,"y":9.4},{"t":19,"x":2013,"y":8.0},{"t":19,"x":2014,"y":8.8},{"t":19,"x":2015,"y":3.8},{"t":19,"x":2016,"y":8.0},{"t":19,"x":2017,"y":8.6},{"t":19,"x":2018,"y":4.6},{"t":19,"x":2019,"y":7.4},{"t":19,"x":2020,"y":7.0},
{"t":20,"x":1985,"y":13.0},{"t":20,"x":1986,"y":14.6},{"t":20,"x":1987,"y":13.2},{"t":20,"x":1988,"y":14.0},{"t":20,"x":1989,"y":12.5},{"t":20,"x":1990,"y":11.0},{"t":20,"x":1991,"y":9.0},{"t":20,"x":1992,"y":6.8},{"t":20,"x":1993,"y":5.4},{"t":20,"x":1994,"y":6.0},{"t":20,"x":1995,"y":5.4},{"t":20,"x":1996,"y":4.4},{"t":20,"x":1997,"y":8.8},{"t":20,"x":1998,"y":5.6},{"t":20,"x":1999,"y":7.0},{"t":20,"x":2000,"y":6.8},{"t":20,"x":2001,"y":6.2},{"t":20,"x":2002,"y":7.8},{"t":20,"x":2003,"y":2.2},{"t":20,"x":2004,"y":4.0},{"t":20,"x":2005,"y":4.4},{"t":20,"x":2006,"y":2.4},{"t":20,"x":2007,"y":5.0},{"t":20,"x":2008,"y":5.8},{"t":20,"x":2009,"y":6.6},{"t":20,"x":2010,"y":5.8},{"t":20,"x":2011,"y":6.0},{"t":20,"x":2012,"y":5.0},{"t":20,"x":2013,"y":4.2},{"t":20,"x":2014,"y":4.8},{"t":20,"x":2015,"y":2.0},{"t":20,"x":2016,"y":4.0},{"t":20,"x":2017,"y":4.3},{"t":20,"x":2018,"y":2.3},{"t":20,"x":2019,"y":3.8},{"t":20,"x":2020,"y":3.5},
{"t":21,"x":1982,"y":13.0},{"t":21,"x":1983,"y":11.5},{"t":21,"x":1984,"y":10.0},{"t":21,"x":1985,"y":12.0},{"t":21,"x":1986,"y":11.5},{"t":21,"x":1987,"y":10.2},{"t":21,"x":1988,"y":9.0},{"t":21,"x":1989,"y":7.6},{"t":21,"x":1990,"y":6.0},{"t":21,"x":1991,"y":4.6},{"t":21,"x":1992,"y":3.4},{"t":21,"x":1993,"y":2.8},{"t":21,"x":1994,"y":3.0},{"t":21,"x":1995,"y":2.6},{"t":21,"x":1996,"y":1.2},{"t":21,"x":1997,"y":2.8},{"t":21,"x":1998,"y":1.9},{"t":21,"x":1999,"y":2.1},{"t":21,"x":2000,"y":2.0},{"t":21,"x":2001,"y":1.7},{"t":21,"x":2002,"y":2.0},{"t":21,"x":2003,"y":0.6},{"t":21,"x":2004,"y":0.8},{"t":21,"x":2005,"y":0.9},{"t":21,"x":2006,"y":0.5},{"t":21,"x":2007,"y":0.9},{"t":21,"x":2008,"y":1.0},{"t":21,"x":2009,"y":1.1},{"t":21,"x":2010,"y":1.0},{"t":21,"x":2011,"y":1.0},{"t":21,"x":2012,"y":0.9},{"t":21,"x":2013,"y":0.7},{"t":21,"x":2014,"y":0.8},{"t":21,"x":2015,"y":0.4},{"t":21,"x":2016,"y":0.7},{"t":21,"x":2017,"y":0.7},{"t":21,"x":2018,"y":0.4},{"t":21,"x":2019,"y":0.6},{"t":21,"x":2020,"y":0.5},
{"t":22,"x":1983,"y":16.0},{"t":22,"x":1984,"y":14.5},{"t":22,"x":1985,"y":16.8},{"t":22,"x":1986,"y":18.2},{"t":22,"x":1987,"y":19.5},{"t":22,"x":1988,"y":22.0},{"t":22,"x":1989,"y":19.0},{"t":22,"x":1990,"y":18.0},{"t":22,"x":1991,"y":17.2},{"t":22,"x":1992,"y":14.0},{"t":22,"x":1993,"y":12.0},{"t":22,"x":1994,"y":12.6},{"t":22,"x":1995,"y":11.0},{"t":22,"x":1996,"y":9.8},{"t":22,"x":1997,"y":17.6},{"t":22,"x":1998,"y":12.2},{"t":22,"x":1999,"y":14.6},{"t":22,"x":2000,"y":14.0},{"t":22,"x":2001,"y":12.6},{"t":22,"x":2002,"y":15.2},{"t":22,"x":2003,"y":5.4},{"t":22,"x":2004,"y":8.6},{"t":22,"x":2005,"y":9.0},{"t":22,"x":2006,"y":4.9},{"t":22,"x":2007,"y":9.8},{"t":22,"x":2008,"y":11.6},{"t":22,"x":2009,"y":12.4},{"t":22,"x":2010,"y":11.0},{"t":22,"x":2011,"y":11.2},{"t":22,"x":2012,"y":9.2},{"t":22,"x":2013,"y":7.8},{"t":22,"x":2014,"y":8.4},{"t":22,"x":2015,"y":3.6},{"t":22,"x":2016,"y":7.4},{"t":22,"x":2017,"y":8.0},{"t":22,"x":2018,"y":4.2},{"t":22,"x":2019,"y":6.8},{"t":22,"x":2020,"y":6.4},
{"t":23,"x":1984,"y":13.2},{"t":23,"x":1985,"y":14.4},{"t":23,"x":1986,"y":13.0},{"t":23,"x":1987,"y":12.0},{"t":23,"x":1988,"y":12.6},{"t":23,"x":1989,"y":11.0},{"t":23,"x":1990,"y":9.2},{"t":23,"x":1991,"y":7.4},{"t":23,"x":1992,"y":5.4},{"t":23,"x":1993,"y":4.4},{"t":23,"x":1994,"y":4.8},{"t":23,"x":1995,"y":4.2},{"t":23,"x":1996,"y":3.4},{"t":23,"x":1997,"y":6.8},{"t":23,"x":1998,"y":4.4},{"t":23,"x":1999,"y":5.4},{"t":23,"x":2000,"y":5.2},{"t":23,"x":2001,"y":4.8},{"t":23,"x":2002,"y":6.0},{"t":23,"x":2003,"y":1.6},{"t":23,"x":2004,"y":3.0},{"t":23,"x":2005,"y":3.2},{"t":23,"x":2006,"y":1.7},{"t":23,"x":2007,"y":3.4},{"t":23,"x":2008,"y":4.0},{"t":23,"x":2009,"y":4.4},{"t":23,"x":2010,"y":3.9},{"t":23,"x":2011,"y":4.0},{"t":23,"x":2012,"y":3.3},{"t":23,"x":2013,"y":2.8},{"t":23,"x":2014,"y":3.1},{"t":23,"x":2015,"y":1.3},{"t":23,"x":2016,"y":2.6},{"t":23,"x":2017,"y":2.9},{"t":23,"x":2018,"y":1.5},{"t":23,"x":2019,"y":2.5},{"t":23,"x":2020,"y":2.3},
{"t":24,"x":1986,"y":15.0},{"t":24,"x":1987,"y":17.8},{"t":24,"x":1988,"y":18.6},{"t":24,"x":1989,"y":18.0},{"t":24,"x":1990,"y":17.6},{"t":24,"x":1991,"y":16.4},{"t":24,"x":1992,"y":13.6},{"t":24,"x":1993,"y":11.5},{"t":24,"x":1994,"y":12.0},{"t":24,"x":1995,"y":14.5},{"t":24,"x":1996,"y":11.0},{"t":24,"x":1997,"y":17.0},{"t":24,"x":1998,"y":13.2},{"t":24,"x":1999,"y":15.0},{"t":24,"x":2000,"y":15.2},{"t":24,"x":2001,"y":14.0},{"t":24,"x":2002,"y":16.0},{"t":24,"x":2003,"y":6.0},{"t":24,"x":2004,"y":9.6},{"t":24,"x":2005,"y":10.4},{"t":24,"x":2006,"y":6.0},{"t":24,"x":2007,"y":11.8},{"t":24,"x":2008,"y":13.0},{"t":24,"x":2009,"y":14.0},{"t":24,"x":2010,"y":12.4},{"t":24,"x":2011,"y":13.5},{"t":24,"x":2012,"y":10.8},{"t":24,"x":2013,"y":9.2},{"t":24,"x":2014,"y":10.0},{"t":24,"x":2015,"y":4.8},{"t":24,"x":2016,"y":9.4},{"t":24,"x":2017,"y":10.2},{"t":24,"x":2018,"y":5.5},{"t":24,"x":2019,"y":9.0},{"t":24,"x":2020,"y":8.8},
{"t":25,"x":1981,"y":10.0},{"t":25,"x":1982,"y":11.6},{"t":25,"x":1983,"y":12.6},{"t":25,"x":1984,"y":11.0},{"t":25,"x":1985,"y":13.0},{"t":25,"x":1986,"y":12.2},{"t":25,"x":1987,"y":11.0},{"t":25,"x":1988,"y":10.8},{"t":25,"x":1989,"y":9.0},{"t":25,"x":1990,"y":7.2},{"t":25,"x":1991,"y":5.6},{"t":25,"x":1992,"y":4.2},{"t":25,"x":1993,"y":3.4},{"t":25,"x":1994,"y":3.6},{"t":25,"x":1995,"y":3.0},{"t":25,"x":1996,"y":2.2},{"t":25,"x":1997,"y":4.4},{"t":25,"x":1998,"y":2.8},{"t":25,"x":1999,"y":3.4},{"t":25,"x":2000,"y":3.2},{"t":25,"x":2001,"y":2.9},{"t":25,"x":2002,"y":3.6},{"t":25,"x":2003,"y":0.9},{"t":25,"x":2004,"y":1.7},{"t":25,"x":2005,"y":1.9},{"t":25,"x":2006,"y":0.9},{"t":25,"x":2007,"y":1.9},{"t":25,"x":2008,"y":2.2},{"t":25,"x":2009,"y":2.5},{"t":25,"x":2010,"y":2.2},{"t":25,"x":2011,"y":2.3},{"t":25,"x":2012,"y":1.9},{"t":25,"x":2013,"y":1.6},{"t":25,"x":2014,"y":1.8},{"t":25,"x":2015,"y":0.7},{"t":25,"x":2016,"y":1.5},{"t":25,"x":2017,"y":1.6},{"t":25,"x":2018,"y":0.9},{"t":25,"x":2019,"y":1.4},{"t":25,"x":2020,"y":1.3},
{"t":26,"x":1984,"y":12.8},{"t":26,"x":1985,"y":15.2},{"t":26,"x":1986,"y":16.4},{"t":26,"x":1987,"y":14.8},{"t":26,"x":1988,"y":15.6},{"t":26,"x":1989,"y":14.0},{"t":26,"x":1990,"y":12.2},{"t":26,"x":1991,"y":10.0},{"t":26,"x":1992,"y":7.6},{"t":26,"x":1993,"y":6.0},{"t":26,"x":1994,"y":6.6},{"t":26,"x":1995,"y":6.0},{"t":26,"x":1996,"y":5.0},{"t":26,"x":1997,"y":9.2},{"t":26,"x":1998,"y":6.4},{"t":26,"x":1999,"y":8.0},{"t":26,"x":2000,"y":8.4},{"t":26,"x":2001,"y":7.6},{"t":26,"x":2002,"y":9.4},{"t":26,"x":2003,"y":3.0},{"t":26,"x":2004,"y":6.0},{"t":26,"x":2005,"y":6.6},{"t":26,"x":2006,"y":3.6},{"t":26,"x":2007,"y":8.4},{"t":26,"x":2008,"y":10.6},{"t":26,"x":2009,"y":15.8},{"t":26,"x":2010,"y":13.2},{"t":26,"x":2011,"y":14.2},{"t":26,"x":2012,"y":11.0},{"t":26,"x":2013,"y":9.4},{"t":26,"x":2014,"y":10.4},{"t":26,"x":2015,"y":5.2},{"t":26,"x":2016,"y":9.0},{"t":26,"x":2017,"y":9.4},{"t":26,"x":2018,"y":5.6},{"t":26,"x":2019,"y":8.6},{"t":26,"x":2020,"y":9.4},
{"t":27,"x":1983,"y":9.0},{"t":27,"x":1984,"y":10.5},{"t":27,"x":1985,"y":11.2},{"t":27,"x":1986,"y":10.0},{"t":27,"x":1987,"y":8.6},{"t":27,"x":1988,"y":7.6},{"t":27,"x":1989,"y":6.4},{"t":27,"x":1990,"y":5.0},{"t":27,"x":1991,"y":3.8},{"t":27,"x":1992,"y":2.8},{"t":27,"x":1993,"y":2.2},{"t":27,"x":1994,"y":2.0},{"t":27,"x":1995,"y":1.6},{"t":27,"x":1996,"y":0.7},{"t":27,"x":1997,"y":1.8},{"t":27,"x":1998,"y":1.2},{"t":27,"x":1999,"y":1.4},{"t":27,"x":2000,"y":1.3},{"t":27,"x":2001,"y":1.1},{"t":27,"x":2002,"y":1.3},{"t":27,"x":2003,"y":0.3},{"t":27,"x":2004,"y":0.4},{"t":27,"x":2005,"y":0.5},{"t":27,"x":2006,"y":0.3},{"t":27,"x":2007,"y":0.5},{"t":27,"x":2008,"y":0.6},{"t":27,"x":2009,"y":0.7},{"t":27,"x":2010,"y":0.6},{"t":27,"x":2011,"y":0.6},{"t":27,"x":2012,"y":0.5},{"t":27,"x":2013,"y":0.4},{"t":27,"x":2014,"y":0.5},{"t":27,"x":2015,"y":0.2},{"t":27,"x":2016,"y":0.4},{"t":27,"x":2017,"y":0.4},{"t":27,"x":2018,"y":0.3},{"t":27,"x":2019,"y":0.3},{"t":27,"x":2020,"y":0.3},
{"t":28,"x":1982,"y":13.5},{"t":28,"x":1983,"y":14.0},{"t":28,"x":1984,"y":13.0},{"t":28,"x":1985,"y":16.0},{"t":28,"x":1986,"y":15.2},{"t":28,"x":1987,"y":14.5},{"t":28,"x":1988,"y":16.5},{"t":28,"x":1989,"y":15.8},{"t":28,"x":1990,"y":14.6},{"t":28,"x":1991,"y":12.6},{"t":28,"x":1992,"y":10.0},{"t":28,"x":1993,"y":8.6},{"t":28,"x":1994,"y":9.4},{"t":28,"x":1995,"y":8.8},{"t":28,"x":1996,"y":6.8},{"t":28,"x":1997,"y":11.2},{"t":28,"x":1998,"y":7.8},{"t":28,"x":1999,"y":9.6},{"t":28,"x":2000,"y":9.4},{"t":28,"x":2001,"y":8.6},{"t":28,"x":2002,"y":10.8},{"t":28,"x":2003,"y":3.2},{"t":28,"x":2004,"y":5.4},{"t":28,"x":2005,"y":5.8},{"t":28,"x":2006,"y":3.0},{"t":28,"x":2007,"y":6.2},{"t":28,"x":2008,"y":7.2},{"t":28,"x":2009,"y":8.2},{"t":28,"x":2010,"y":7.4},{"t":28,"x":2011,"y":7.6},{"t":28,"x":2012,"y":6.2},{"t":28,"x":2013,"y":5.4},{"t":28,"x":2014,"y":6.0},{"t":28,"x":2015,"y":2.6},{"t":28,"x":2016,"y":5.0},{"t":28,"x":2017,"y":5.4},{"t":28,"x":2018,"y":2.9},{"t":28,"x":2019,"y":4.8},{"t":28,"x":2020,"y":4.4},
{"t":29,"x":1981,"y":9.5},{"t":29,"x":1982,"y":15.5},{"t":29,"x":1983,"y":12.0},{"t":29,"x":1984,"y":16.8},{"t":29,"x":1985,"y":13.5},{"t":29,"x":1986,"y":17.8},{"t":29,"x":1987,"y":14.0},{"t":29,"x":1988,"y":13.0},{"t":29,"x":1989,"y":15.5},{"t":29,"x":1990,"y":10.5},{"t":29,"x":1991,"y":12.0},{"t":29,"x":1992,"y":7.0},{"t":29,"x":1993,"y":8.5},{"t":29,"x":1994,"y":5.5},{"t":29,"x":1995,"y":7.8},{"t":29,"x":1996,"y":6.2},{"t":29,"x":1997,"y":8.0},{"t":29,"x":1998,"y":9.5},{"t":29,"x":1999,"y":7.0},{"t":29,"x":2000,"y":9.8},{"t":29,"x":2001,"y":6.5},{"t":29,"x":2002,"y":8.6},{"t":29,"x":2003,"y":4.0},{"t":29,"x":2004,"y":5.2},{"t":29,"x":2005,"y":3.8},{"t":29,"x":2006,"y":4.6},{"t":29,"x":2007,"y":6.8},{"t":29,"x":2008,"y":5.5},{"t":29,"x":2009,"y":8.4},{"t":29,"x":2010,"y":7.0},{"t":29,"x":2011,"y":5.8},{"t":29,"x":2012,"y":7.2},{"t":29,"x":2013,"y":4.6},{"t":29,"x":2014,"y":6.0},{"t":29,"x":2015,"y":3.4},{"t":29,"x":2016,"y":5.0},{"t":29,"x":2017,"y":3.8},{"t":29,"x":2018,"y":4.4},{"t":29,"x":2019,"y":5.6},{"t":29,"x":2020,"y":4.2},
{"t":30,"x":1984,"y":15.0},{"t":30,"x":1985,"y":19.0},{"t":30,"x":1986,"y":17.0},{"t":30,"x":1987,"y":18.2},{"t":30,"x":1988,"y":16.0},{"t":30,"x":1989,"y":17.8},{"t":30,"x":1990,"y":17.0},{"t":30,"x":1991,"y":18.2},{"t":30,"x":1992,"y":16.8},{"t":30,"x":1993,"y":13.0},{"t":30,"x":1994,"y":17.6},{"t":30,"x":1995,"y":14.8},{"t":30,"x":1996,"y":14.4},{"t":30,"x":1997,"y":18.6},{"t":30,"x":1998,"y":15.5},{"t":30,"x":1999,"y":18.0},{"t":30,"x":2000,"y":16.2},{"t":30,"x":2001,"y":15.8},{"t":30,"x":2002,"y":13.6},{"t":30,"x":2003,"y":7.8},{"t":30,"x":2004,"y":8.7},{"t":30,"x":2005,"y":8.6},{"t":30,"x":2006,"y":8.7},{"t":30,"x":2007,"y":11.6},{"t":30,"x":2008,"y":12.2},{"t":30,"x":2009,"y":13.2},{"t":30,"x":2010,"y":12.8},{"t":30,"x":2011,"y":14.0},{"t":30,"x":2012,"y":11.6},{"t":30,"x":2013,"y":8.4},{"t":30,"x":2014,"y":9.6},{"t":30,"x":2015,"y":5.6},{"t":30,"x":2016,"y":11.6},{"t":30,"x":2017,"y":12.0},{"t":30,"x":2018,"y":7.2},{"t":30,"x":2019,"y":8.8},{"t":30,"x":2020,"y":9.4},
{"t":31,"x":1982,"y":18.5},{"t":31,"x":1983,"y":15.6},{"t":31,"x":1984,"y":16.4},{"t":31,"x":1985,"y":14.0},{"t":31,"x":1986,"y":15.0},{"t":31,"x":1987,"y":12.4},{"t":31,"x":1988,"y":11.0},{"t":31,"x":1989,"y":9.2},{"t":31,"x":1990,"y":8.0},{"t":31,"x":1991,"y":6.4},{"t":31,"x":1992,"y":4.8},{"t":31,"x":1993,"y":3.2},{"t":31,"x":1994,"y":3.8},{"t":31,"x":1995,"y":3.0},{"t":31,"x":1996,"y":2.6},{"t":31,"x":1997,"y":4.6},{"t":31,"x":1998,"y":3.8},{"t":31,"x":1999,"y":3.2},{"t":31,"x":2000,"y":3.6},{"t":31,"x":2001,"y":2.8},{"t":31,"x":2002,"y":3.4},{"t":31,"x":2003,"y":1.2},{"t":31,"x":2004,"y":1.8},{"t":31,"x":2005,"y":1.6},{"t":31,"x":2006,"y":1.2},{"t":31,"x":2007,"y":2.0},{"t":31,"x":2008,"y":2.4},{"t":31,"x":2009,"y":2.2},{"t":31,"x":2010,"y":2.6},{"t":31,"x":2011,"y":2.0},{"t":31,"x":2012,"y":2.2},{"t":31,"x":2013,"y":1.6},{"t":31,"x":2014,"y":1.8},{"t":31,"x":2015,"y":1.0},{"t":31,"x":2016,"y":1.6},{"t":31,"x":2017,"y":1.4},{"t":31,"x":2018,"y":1.0},{"t":31,"x":2019,"y":1.3},{"t":31,"x":2020,"y":1.2},
{"t":32,"x":1983,"y":15.8},{"t":32,"x":1984,"y":12.2},{"t":32,"x":1985,"y":17.2},{"t":32,"x":1986,"y":14.6},{"t":32,"x":1987,"y":19.6},{"t":32,"x":1988,"y":15.0},{"t":32,"x":1989,"y":16.2},{"t":32,"x":1990,"y":15.6},{"t":32,"x":1991,"y":13.8},{"t":32,"x":1992,"y":11.0},{"t":32,"x":1993,"y":9.6},{"t":32,"x":1994,"y":7.8},{"t":32,"x":1995,"y":9.0},{"t":32,"x":1996,"y":7.0},{"t":32,"x":1997,"y":11.4},{"t":32,"x":1998,"y":8.8},{"t":32,"x":1999,"y":10.0},{"t":32,"x":2000,"y":11.8},{"t":32,"x":2001,"y":9.4},{"t":32,"x":2002,"y":9.0},{"t":32,"x":2003,"y":3.8},{"t":32,"x":2004,"y":5.6},{"t":32,"x":2005,"y":8.2},{"t":32,"x":2006,"y":3.4},{"t":32,"x":2007,"y":7.0},{"t":32,"x":2008,"y":8.4},{"t":32,"x":2009,"y":9.8},{"t":32,"x":2010,"y":11.0},{"t":32,"x":2011,"y":8.6},{"t":32,"x":2012,"y":8.0},{"t":32,"x":2013,"y":6.6},{"t":32,"x":2014,"y":7.4},{"t":32,"x":2015,"y":3.0},{"t":32,"x":2016,"y":6.4},{"t":32,"x":2017,"y":7.8},{"t":32,"x":2018,"y":3.6},{"t":32,"x":2019,"y":6.2},{"t":32,"x":2020,"y":6.6},
{"t":33,"x":1985,"y":14.6},{"t":33,"x":1986,"y":16.2},{"t":33,"x":1987,"y":15.4},{"t":33,"x":1988,"y":13.0},{"t":33,"x":1989,"y":11.4},{"t":33,"x":1990,"y":9.8},{"t":33,"x":1991,"y":8.0},{"t":33,"x":1992,"y":6.0},{"t":33,"x":1993,"y":4.8},{"t":33,"x":1994,"y":4.0},{"t":33,"x":1995,"y":4.4},{"t":33,"x":1996,"y":3.0},{"t":33,"x":1997,"y":5.8},{"t":33,"x":1998,"y":4.0},{"t":33,"x":1999,"y":4.6},{"t":33,"x":2000,"y":5.4},{"t":33,"x":2001,"y":3.8},{"t":33,"x":2002,"y":4.6},{"t":33,"x":2003,"y":1.4},{"t":33,"x":2004,"y":2.4},{"t":33,"x":2005,"y":2.8},{"t":33,"x":2006,"y":1.6},{"t":33,"x":2007,"y":2.8},{"t":33,"x":2008,"y":3.4},{"t":33,"x":2009,"y":3.2},{"t":33,"x":2010,"y":3.8},{"t":33,"x":2011,"y":3.0},{"t":33,"x":2012,"y":2.8},{"t":33,"x":2013,"y":2.2},{"t":33,"x":2014,"y":2.6},{"t":33,"x":2015,"y":1.2},{"t":33,"x":2016,"y":2.2},{"t":33,"x":2017,"y":2.4},{"t":33,"x":2018,"y":1.2},{"t":33,"x":2019,"y":2.0},{"t":33,"x":2020,"y":2.0},
{"t":34,"x":1981,"y":11.8},{"t":34,"x":1982,"y":9.6},{"t":34,"x":1983,"y":11.0},{"t":34,"x":1984,"y":12.8},{"t":34,"x":1985,"y":11.4},{"t":34,"x":1986,"y":13.6},{"t":34,"x":1987,"y":12.6},{"t":34,"x":1988,"y":14.4},{"t":34,"x":1989,"y":12.0},{"t":34,"x":1990,"y":13.2},{"t":34,"x":1991,"y":10.8},{"t":34,"x":1992,"y":9.0},{"t":34,"x":1993,"y":7.0},{"t":34,"x":1994,"y":8.2},{"t":34,"x":1995,"y":6.8},{"t":34,"x":1996,"y":5.8},{"t":34,"x":1997,"y":8.8},{"t":34,"x":1998,"y":7.4},{"t":34,"x":1999,"y":8.6},{"t":34,"x":2000,"y":7.8},{"t":34,"x":2001,"y":8.2},{"t":34,"x":2002,"y":7.0},{"t":34,"x":2003,"y":2.8},{"t":34,"x":2004,"y":4.6},{"t":34,"x":2005,"y":4.2},{"t":34,"x":2006,"y":3.0},{"t":34,"x":2007,"y":5.4},{"t":34,"x":2008,"y":6.0},{"t":34,"x":2009,"y":7.2},{"t":34,"x":2010,"y":6.4},{"t":34,"x":2011,"y":6.0},{"t":34,"x":2012,"y":5.6},{"t":34,"x":2013,"y":4.4},{"t":34,"x":2014,"y":5.0},{"t":34,"x":2015,"y":2.4},{"t":34,"x":2016,"y":4.6},{"t":34,"x":2017,"y":4.2},{"t":34,"x":2018,"y":2.8},{"t":34,"x":2019,"y":4.0},{"t":34,"x":2020,"y":4.6},
{"t":35,"x":1984,"y":16.0},{"t":35,"x":1985,"y":20.4},{"t":35,"x":1986,"y":17.4},{"t":35,"x":1987,"y":15.6},{"t":35,"x":1988,"y":14.2},{"t":35,"x":1989,"y":11.6},{"t":35,"x":1990,"y":8.4},{"t":35,"x":1991,"y":6.2},{"t":35,"x":1992,"y":4.6},{"t":35,"x":1993,"y":3.4},{"t":35,"x":1994,"y":3.0},{"t":35,"x":1995,"y":2.6},{"t":35,"x":1996,"y":2.0},{"t":35,"x":1997,"y":3.6},{"t":35,"x":1998,"y":2.4},{"t":35,"x":1999,"y":2.6},{"t":35,"x":2000,"y":2.8},{"t":35,"x":2001,"y":2.2},{"t":35,"x":2002,"y":2.6},{"t":35,"x":2003,"y":0.8},{"t":35,"x":2004,"y":1.4},{"t":35,"x":2005,"y":1.4},{"t":35,"x":2006,"y":0.8},{"t":35,"x":2007,"y":1.4},{"t":35,"x":2008,"y":1.6},{"t":35,"x":2009,"y":1.8},{"t":35,"x":2010,"y":1.6},{"t":35,"x":2011,"y":1.8},{"t":35,"x":2012,"y":1.4},{"t":35,"x":2013,"y":1.2},{"t":35,"x":2014,"y":1.3},{"t":35,"x":2015,"y":0.6},{"t":35,"x":2016,"y":1.1},{"t":35,"x":2017,"y":1.2},{"t":35,"x":2018,"y":0.7},{"t":35,"x":2019,"y":1.1},{"t":35,"x":2020,"y":1.0},
{"t":36,"x":1986,"y":17.0},{"t":36,"x":1987,"y":18.6},{"t":36,"x":1988,"y":21.0},{"t":36,"x":1989,"y":17.4},{"t":36,"x":1990,"y":16.6},{"t":36,"x":1991,"y":17.8},{"t":36,"x":1992,"y":15.6},{"t":36,"x":1993,"y":12.4},{"t":36,"x":1994,"y":14.2},{"t":36,"x":1995,"y":10.8},{"t":36,"x":1996,"y":11.6},{"t":36,"x":1997,"y":14.6},{"t":36,"x":1998,"y":14.0},{"t":36,"x":1999,"y":15.6},{"t":36,"x":2000,"y":17.8},{"t":36,"x":2001,"y":14.8},{"t":36,"x":2002,"y":13.2},{"t":36,"x":2003,"y":5.8},{"t":36,"x":2004,"y":8.7},{"t":36,"x":2005,"y":7.6},{"t":36,"x":2006,"y":5.4},{"t":36,"x":2007,"y":8.2},{"t":36,"x":2008,"y":10.4},{"t":36,"x":2009,"y":11.8},{"t":36,"x":2010,"y":10.0},{"t":36,"x":2011,"y":10.8},{"t":36,"x":2012,"y":9.8},{"t":36,"x":2013,"y":8.6},{"t":36,"x":2014,"y":9.0},{"t":36,"x":2015,"y":4.4},{"t":36,"x":2016,"y":7.4},{"t":36,"x":2017,"y":7.0},{"t":36,"x":2018,"y":5.0},{"t":36,"x":2019,"y":7.6},{"t":36,"x":2020,"y":8.0},
{"t":37,"x":1982,"y":7.8},{"t":37,"x":1983,"y":11.4},{"t":37,"x":1984,"y":9.6},{"t":37,"x":1985,"y":10.4},{"t":37,"x":1986,"y":12.8},{"t":37,"x":1987,"y":9.2},{"t":37,"x":1988,"y":9.6},{"t":37,"x":1989,"y":7.8},{"t":37,"x":1990,"y":5.4},{"t":37,"x":1991,"y":4.2},{"t":37,"x":1992,"y":2.6},{"t":37,"x":1993,"y":2.2},{"t":37,"x":1994,"y":2.6},{"t":37,"x":1995,"y":1.8},{"t":37,"x":1996,"y":1.4},{"t":37,"x":1997,"y":2.4},{"t":37,"x":1998,"y":1.8},{"t":37,"x":1999,"y":2.2},{"t":37,"x":2000,"y":1.8},{"t":37,"x":2001,"y":1.6},{"t":37,"x":2002,"y":1.8},{"t":37,"x":2003,"y":0.6},{"t":37,"x":2004,"y":1.0},{"t":37,"x":2005,"y":0.8},{"t":37,"x":2006,"y":0.6},{"t":37,"x":2007,"y":0.9},{"t":37,"x":2008,"y":1.2},{"t":37,"x":2009,"y":1.0},{"t":37,"x":2010,"y":1.2},{"t":37,"x":2011,"y":1.0},{"t":37,"x":2012,"y":0.9},{"t":37,"x":2013,"y":0.8},{"t":37,"x":2014,"y":0.8},{"t":37,"x":2015,"y":0.4},{"t":37,"x":2016,"y":0.8},{"t":37,"x":2017,"y":0.6},{"t":37,"x":2018,"y":0.5},{"t":37,"x":2019,"y":0.6},{"t":37,"x":2020,"y":0.6},
{"t":38,"x":1983,"y":13.6},{"t":38,"x":1984,"y":17.0},{"t":38,"x":1985,"y":15.8},{"t":38,"x":1986,"y":18.4},{"t":38,"x":1987,"y":17.0},{"t":38,"x":1988,"y":20.6},{"t":38,"x":1989,"y":16.8},{"t":38,"x":1990,"y":15.4},{"t":38,"x":1991,"y":14.0},{"t":38,"x":1992,"y":12.2},{"t":38,"x":1993,"y":9.2},{"t":38,"x":1994,"y":10.8},{"t":38,"x":1995,"y":12.4},{"t":38,"x":1996,"y":8.0},{"t":38,"x":1997,"y":13.2},{"t":38,"x":1998,"y":12.0},{"t":38,"x":1999,"y":11.0},{"t":38,"x":2000,"y":13.8},{"t":38,"x":2001,"y":14.6},{"t":38,"x":2002,"y":12.0},{"t":38,"x":2003,"y":4.6},{"t":38,"x":2004,"y":7.0},{"t":38,"x":2005,"y":9.6},{"t":38,"x":2006,"y":4.0},{"t":38,"x":2007,"y":10.2},{"t":38,"x":2008,"y":11.6},{"t":38,"x":2009,"y":10.4},{"t":38,"x":2010,"y":12.6},{"t":38,"x":2011,"y":10.0},{"t":38,"x":2012,"y":9.0},{"t":38,"x":2013,"y":8.8},{"t":38,"x":2014,"y":7.6},{"t":38,"x":2015,"y":4.4},{"t":38,"x":2016,"y":8.4},{"t":38,"x":2017,"y":7.4},{"t":38,"x":2018,"y":4.8},{"t":38,"x":2019,"y":7.2},{"t":38,"x":2020,"y":7.8}
]
},
"hconcat":[
{"width":490,"height":341,"layer":[
{"data":{"name":"L"},"mark":{"type":"line","color":"#8c8c8c","strokeWidth":1.1},
"encoding":{
"x":{"field":"x","type":"quantitative","scale":{"domain":[1976.24,2023.76],"nice":false,"zero":false},"axis":{"values":[1980,1990,2000,2010,2020],"format":"d","labelPadding":3,"title":"Calendar year","titleX":490,"titleY":60.7,"titleAlign":"right","titleBaseline":"alphabetic"}},
"y":{"field":"y","type":"quantitative","scale":{"domain":[-24,624],"nice":false,"zero":false},"axis":{"values":[0,200,400,600],"labelPadding":2,"title":"Stem diameter [mm]","titleAngle":0,"titleX":0,"titleY":-7,"titleAlign":"left","titleBaseline":"alphabetic"}},
"detail":{"field":"t","type":"nominal"}}},
{"data":{"values":[{"lab":"FFB 612"}]},"mark":{"type":"text","fontSize":24.5,"fontWeight":"bold","align":"center","baseline":"alphabetic","color":"#111111"},"encoding":{"x":{"datum":2000},"y":{"datum":564.5},"text":{"field":"lab"}}},
{"data":{"values":[{"lab":"(a)"}]},"mark":{"type":"text","fontSize":24.5,"fontWeight":"bold","align":"left","baseline":"alphabetic","color":"#111111"},"encoding":{"x":{"datum":1970},"y":{"datum":-168},"text":{"field":"lab"}}}
]},
{"width":490,"height":341,"layer":[
{"data":{"name":"G"},"mark":{"type":"line","color":"#8c8c8c","strokeWidth":1.1},
"encoding":{
"x":{"field":"x","type":"quantitative","scale":{"domain":[1976.24,2023.76],"nice":false,"zero":false},"axis":{"values":[1980,1990,2000,2010,2020],"format":"d","labelPadding":3,"title":"Calendar year","titleX":490,"titleY":60.7,"titleAlign":"right","titleBaseline":"alphabetic"}},
"y":{"field":"y","type":"quantitative","scale":{"domain":[-1.2,31.2],"nice":false,"zero":false},"axis":{"values":[0,10,20,30],"labelPadding":2,"title":"Annual stem diameter growth [mm year⁻¹]","titleAngle":0,"titleX":0,"titleY":-7,"titleAlign":"left","titleBaseline":"alphabetic"}},
"detail":{"field":"t","type":"nominal"}}},
{"data":{"values":[{"lab":"FFB 612"}]},"mark":{"type":"text","fontSize":24.5,"fontWeight":"bold","align":"center","baseline":"alphabetic","color":"#111111"},"encoding":{"x":{"datum":2000},"y":{"datum":28.26},"text":{"field":"lab"}}},
{"data":{"values":[{"lab":"(b)"}]},"mark":{"type":"text","fontSize":24.5,"fontWeight":"bold","align":"left","baseline":"alphabetic","color":"#111111"},"encoding":{"x":{"datum":1970},"y":{"datum":-8.4},"text":{"field":"lab"}}}
]}
]
}
